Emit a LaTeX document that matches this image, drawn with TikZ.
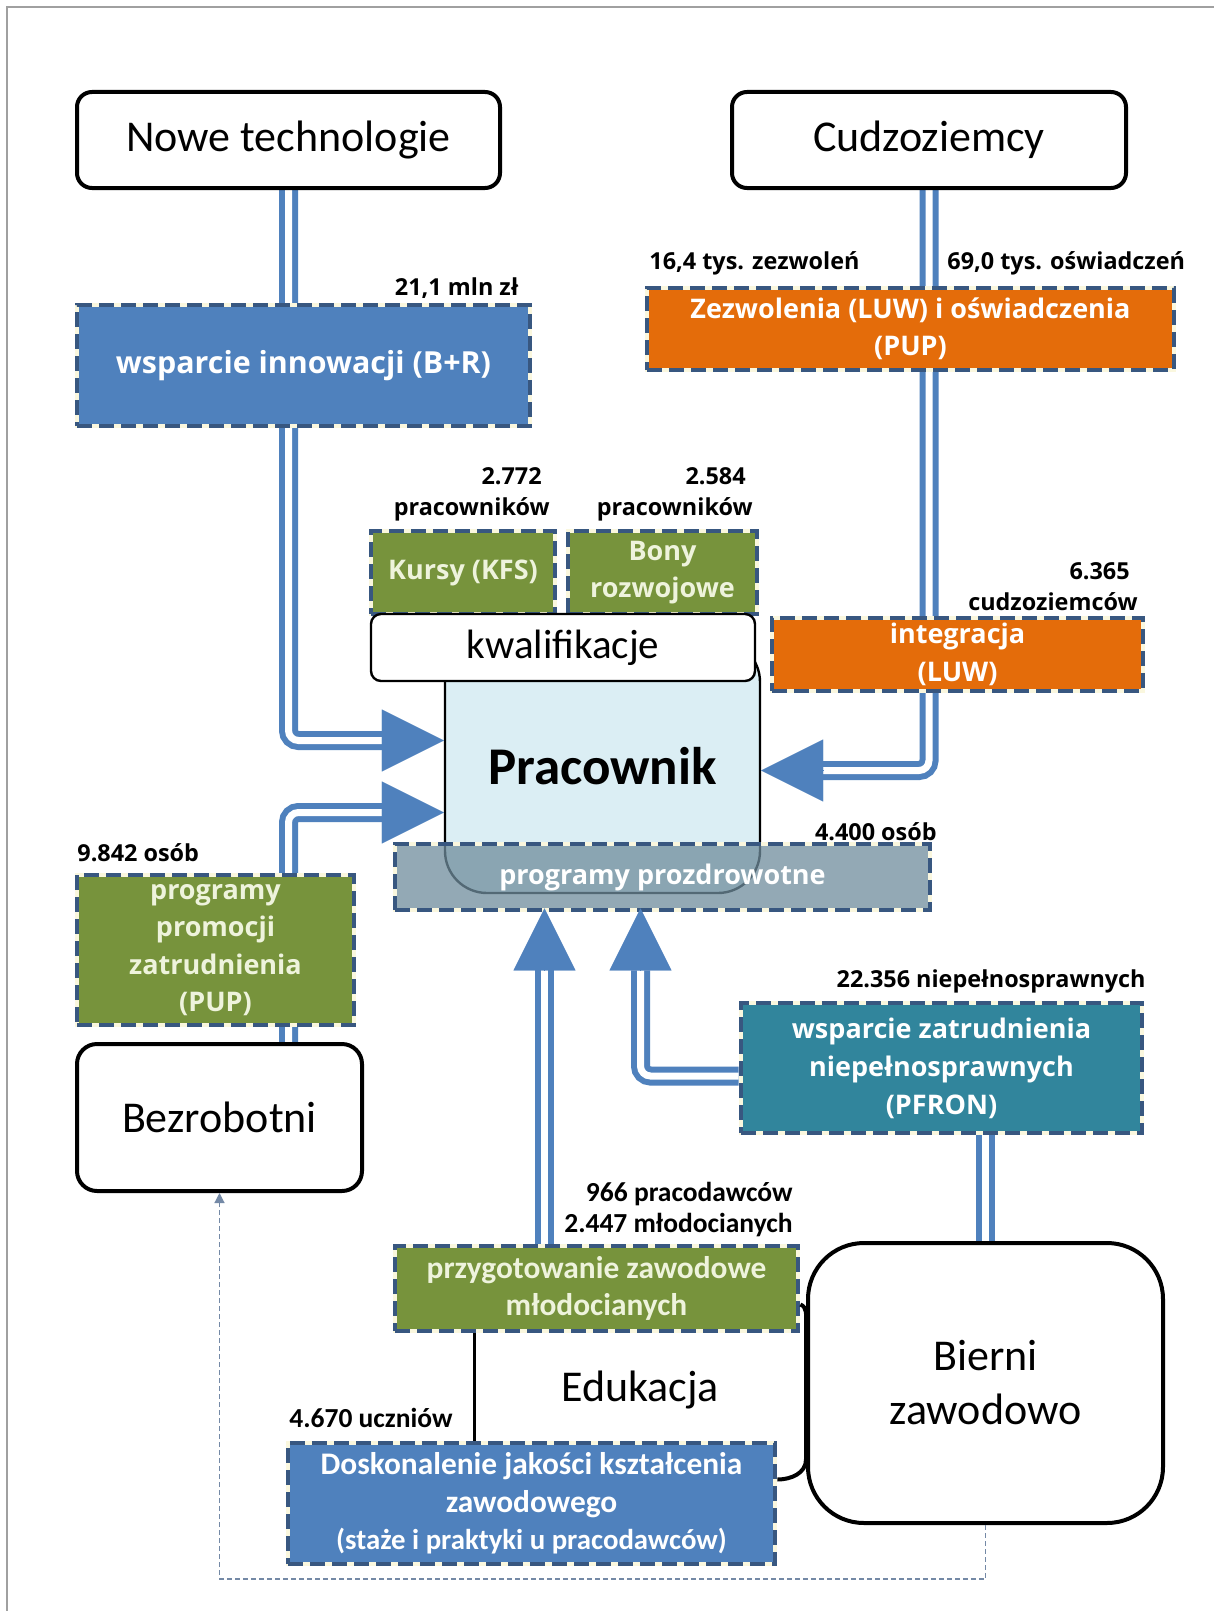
\documentclass[tikz,border=0pt]{standalone}
\usepackage{fontspec}
\setmainfont{Carlito}
\newfontfamily\opensans{Open Sans}
\usetikzlibrary{arrows.meta, backgrounds, positioning}

\definecolor{lineblue}{RGB}{79,129,189}
\definecolor{boxblue}{RGB}{79,129,189}
\definecolor{dashcol}{RGB}{56,87,128}
\definecolor{paleedge}{RGB}{250,247,222}
\definecolor{boxorange}{RGB}{228,108,10}
\definecolor{boxgreen}{RGB}{119,147,60}
\definecolor{boxteal}{RGB}{49,133,156}
\definecolor{boxgray}{RGB}{111,141,157}
\definecolor{pracfill}{RGB}{219,238,244}
\definecolor{greentext}{RGB}{238,243,220}
\definecolor{framegray}{RGB}{160,160,160}

\begin{document}
\begin{tikzpicture}[
    x=0.5pt, y=-0.5pt,
    whitebox/.style={draw, line width=2pt, rounded corners=#1, fill=white, align=center,
      inner sep=0pt, font=\fontsize{22}{27}\selectfont},
    progbox/.style={fill=#1, draw=paleedge, line width=2.4pt,
      postaction={draw=dashcol, line width=2.4pt, dash pattern=on 7.5pt off 3.5pt},
      text=white, align=center, inner sep=0pt,
      font=\opensans\bfseries\fontsize{13.5}{18.75}\selectfont},
    calbox/.style={progbox=#1, font=\bfseries\fontsize{15.7}{18.75}\selectfont},
    note/.style={inner sep=0pt, align=right, font=\opensans\bfseries\fontsize{11.7}{15.5}\selectfont},
    cnote/.style={inner sep=0pt, align=right, font=\bfseries\fontsize{13.75}{15.5}\selectfont},
    dline/.style={draw=lineblue, line width=3pt, double=white, double distance=3.5pt, rounded corners=5pt},
    bigtip/.style={draw=lineblue, line width=0.1pt, -{Triangle[length=31pt,width=31pt]}},
    brace/.style={draw, line width=2pt},
    loopback/.style={draw=dashcol!70, line width=0.6pt, dash pattern=on 2.5pt off 1.5pt,
      -{Triangle[length=5pt,width=5pt]}}
  ]

  \useasboundingbox (0,0) rectangle (1214,1611);

  % sources
  \node[whitebox=7.5pt, minimum width=211.5pt, minimum height=48pt] (tech) at (288.5,140) {Nowe technologie};
  \node[whitebox=7.5pt, minimum width=197pt, minimum height=48pt] (cudz) at (929,140) {Cudzoziemcy};

  \node[progbox=boxblue, minimum width=226.5pt, minimum height=60.5pt,
    font=\opensans\bfseries\fontsize{15.2}{18}\selectfont] (innow) at (303.5,365.5) {wsparcie innowacji (B+R)};
  \node[note, anchor=east] (innowN) at (519,288) {21,1 mln zł};

  \node[progbox=boxorange, minimum width=263.5pt, minimum height=41pt] (zezw) at (910.5,329)
    {Zezwolenia (LUW) i oświadczenia\\(PUP)};
  \node[note, anchor=west] (zezwN) at (649,263) {16,4 tys. zezwoleń};
  \node[note, anchor=west] (oswN) at (947,263) {69,0 tys. oświadczeń};

  % kwalifikacje
  \node[progbox=boxgreen, text=greentext, minimum width=92pt, minimum height=41.5pt] (kursy) at (463,572.5) {Kursy (KFS)};
  \node[note, anchor=east] (kursyN) at (550,494.5) {2.772\hspace*{4pt}\\pracowników};
  \node[progbox=boxgreen, text=greentext, minimum width=94.5pt, minimum height=41.5pt] (bony) at (662.5,572.5) {Bony\\rozwojowe};
  \node[note, anchor=east] (bonyN) at (753,494.5) {2.584\hspace*{3.5pt}\\pracowników};

  \node[draw, line width=1.2pt, rounded corners=21pt, fill=pracfill, minimum width=157.5pt, minimum height=126.5pt,
    font=\bfseries\fontsize{26.5}{30}\selectfont] (prac) at (602.5,766.5) {Pracownik};
  \node[whitebox=5pt, line width=1.2pt, minimum width=192pt, minimum height=33.5pt,
    font=\fontsize{20.5}{24}\selectfont] (kwal) at (563,647.5) {kwalifikacje};

  \node[progbox=boxgray, fill opacity=0.75, text opacity=1, minimum width=267.5pt, minimum height=33pt] (prozdr) at (662.5,877)
    {programy prozdrowotne};
  \node[note, anchor=east] (prozdrN) at (937,832) {4.400 osób};

  \node[progbox=boxorange, minimum width=185.5pt, minimum height=36.5pt] (integ) at (957.5,654.5) {integracja\\(LUW)};
  \node[note, anchor=east] (integN) at (1138,587) {6.365\hspace*{4pt}\\cudzoziemców};

  % bezrobotni
  \node[progbox=boxgreen, text=greentext, minimum width=138.5pt, minimum height=75pt] (promo) at (215.5,950)
    {programy\\promocji\\zatrudnienia\\(PUP)};
  \node[note, anchor=west] (promoN) at (77,853) {9.842 osób};
  \node[whitebox=10pt, minimum width=142.5pt, minimum height=73.5pt] (bezr) at (219.5,1117.5) {Bezrobotni};

  % bierni
  \node[progbox=boxteal, minimum width=200.5pt, minimum height=65pt,
    font=\opensans\bfseries\fontsize{13.5}{19}\selectfont] (pfron) at (941.5,1068)
    {wsparcie zatrudnienia\\niepełnosprawnych\\(PFRON)};
  \node[note, anchor=east] (pfronN) at (1146,981) {22.356 niepełnosprawnych};

  \node[calbox=boxgreen, text=greentext, minimum width=201.5pt, minimum height=42.5pt] (przyg) at (596.5,1288.5)
    {przygotowanie zawodowe\\młodocianych};
  \node[cnote, anchor=east] (przygN) at (793,1209.5) {966 pracodawców\\2.447 młodocianych};

  \node[calbox=boxblue, minimum width=243.5pt, minimum height=60.5pt] (dosk) at (531.5,1503.5)
    {Doskonalenie jakości kształcenia\\zawodowego\\{\fontsize{14.4}{18}\selectfont (staże i praktyki u pracodawców)}};
  \node[cnote, anchor=west] (doskN) at (289,1418) {4.670 uczniów};

  \node[whitebox=28pt, minimum width=177.5pt, minimum height=140pt] (bierni) at (985.5,1383) {Bierni\\zawodowo};
  \node[font=\fontsize{22}{27}\selectfont] (eduk) at (640,1390) {Edukacja};

  % arrow tips and bases
  \coordinate (tipA) at ([yshift=13pt]prac.west);
  \coordinate (baseA) at ([xshift=-31pt]tipA);
  \coordinate (tipB) at ([yshift=-23pt]prac.west);
  \coordinate (baseB) at ([xshift=-31pt]tipB);
  \coordinate (tipC) at ([yshift=-2pt]prac.east);
  \coordinate (baseC) at ([xshift=31pt]tipC);
  \coordinate (tipD) at ([xshift=-59pt,yshift=2pt]prozdr.south);
  \coordinate (baseD) at ([yshift=-31pt]tipD);
  \coordinate (tipE) at ([xshift=-11pt,yshift=2pt]prozdr.south);
  \coordinate (baseE) at ([yshift=-31pt]tipE);

  \begin{scope}[on background layer]
    \fill[white] (0,0) rectangle (1214,1611);
    \draw[dline] (tech.south) |- (baseA);
    \draw[dline] (bezr.north -| tech.south) |- (baseB);
    \draw[dline] (cudz.south) |- (baseC);
    \draw[dline] (przyg.north -| baseD) -- (baseD);
    \draw[dline] ([yshift=-4pt]pfron.west) -| (baseE);
    \draw[dline] (bierni.north) -- (bierni.north |- pfron.south);
  \end{scope}

  \draw[bigtip] (baseA) -- (tipA);
  \draw[bigtip] (baseB) -- (tipB);
  \draw[bigtip] (baseC) -- (tipC);
  \draw[bigtip] (baseD) -- (tipD);
  \draw[bigtip] (baseE) -- (tipE);

  % edukacja
  \draw[line width=1.5pt] ([xshift=-61pt]przyg.south) -- ([xshift=-61pt]przyg.south |- dosk.north);
  \draw[brace] ([yshift=-8pt]przyg.east) to[out=-20,in=90] ([yshift=-17pt]przyg.east -| bierni.west)
    -- ([yshift=22pt]dosk.east -| bierni.west) to[out=-90,in=0] ([yshift=12pt]dosk.east);
  \draw[loopback] (bierni.south) -- ++(0,-27pt) -| (bezr.south);

  \draw[framegray, line width=1pt] (7,1611) -- (7,7) -- (1214,7);

\end{tikzpicture}
\end{document}
